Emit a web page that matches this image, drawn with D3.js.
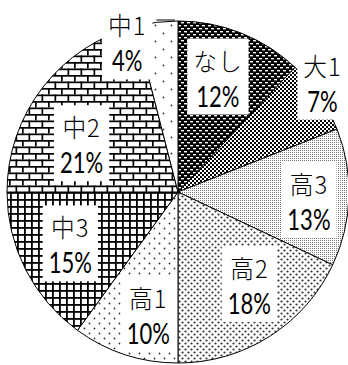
<!DOCTYPE html>
<html>
<head>
<meta charset="utf-8">
<script src="https://cdn.jsdelivr.net/npm/d3@7"></script>
<style>
  body { margin: 0; background: #fff; }
  text { fill: #000; }
  .name { font-family: "Noto Sans CJK JP", "Noto Sans", sans-serif; font-weight: 300; }
  .pct { font-family: Lato, "Liberation Sans", sans-serif; font-weight: 400; }
</style>
</head>
<body>
<div id="chart"></div>
<script>
// share of respondents by group (percent), clockwise from the top
var categories = ["なし", "大1", "高3", "高2", "高1", "中3", "中2", "中1"];
var shares = [12, 7, 13, 18, 10, 15, 21, 4];

var width = 348;
var height = 365;
var cx = 178, cy = 192;
var radius = 171;

// label placement: inside radius, outside radius, and small hand nudges
var innerLabelR = 122;
var outerLabelR = 182;
var nudges = [[-5, -2], [-6, -8], [9, 4], [6, -11], [8, 6], [1, -4], [0, 26], [-28, 30]];

var svg = d3.select('#chart')
  .append('svg')
  .attr('width', width)
  .attr('height', height);

var defs = svg.append('defs');

function pattern(id, w, h, bg, draw) {
  var p = defs.append('pattern')
    .attr('id', id)
    .attr('patternUnits', 'userSpaceOnUse')
    .attr('width', w)
    .attr('height', h);
  p.append('rect').attr('width', w).attr('height', h).attr('fill', bg);
  draw(p);
}

// なし: black with white dashes
pattern('p0', 6, 6, '#000', function(p) {
  p.append('rect').attr('x', 0).attr('y', 1).attr('width', 3).attr('height', 1.4).attr('fill', '#fff');
  p.append('rect').attr('x', 3).attr('y', 4).attr('width', 3).attr('height', 1.4).attr('fill', '#fff');
});
// 大1: checkerboard
pattern('p1', 4, 4, '#000', function(p) {
  p.append('rect').attr('x', 0).attr('y', 0).attr('width', 2).attr('height', 2).attr('fill', '#fff');
  p.append('rect').attr('x', 2).attr('y', 2).attr('width', 2).attr('height', 2).attr('fill', '#fff');
});
// 高3: fine dots
pattern('p2', 2, 2, '#fff', function(p) {
  p.append('rect').attr('width', 1).attr('height', 1).attr('fill', '#777');
});
// 高2: medium dots
pattern('p3', 6, 6, '#fff', function(p) {
  p.append('circle').attr('cx', 1.5).attr('cy', 1.5).attr('r', 1.1).attr('fill', '#333');
  p.append('circle').attr('cx', 4.5).attr('cy', 4.5).attr('r', 1.1).attr('fill', '#333');
});
// 高1: sparse dots
pattern('p4', 10, 10, '#fff', function(p) {
  p.append('circle').attr('cx', 1.5).attr('cy', 1.5).attr('r', 0.9).attr('fill', '#333');
  p.append('circle').attr('cx', 6.5).attr('cy', 6.5).attr('r', 0.9).attr('fill', '#333');
});
// 中3: grid
pattern('p5', 7, 7, '#fff', function(p) {
  p.append('rect').attr('x', 0).attr('y', 0).attr('width', 7).attr('height', 1.8).attr('fill', '#000');
  p.append('rect').attr('x', 0).attr('y', 0).attr('width', 1.8).attr('height', 7).attr('fill', '#000');
});
// 中2: bricks
pattern('p6', 13, 13, '#fff', function(p) {
  p.append('rect').attr('x', 0).attr('y', 0).attr('width', 13).attr('height', 1.7).attr('fill', '#000');
  p.append('rect').attr('x', 0).attr('y', 6.5).attr('width', 13).attr('height', 1.7).attr('fill', '#000');
  p.append('rect').attr('x', 0).attr('y', 0).attr('width', 1.7).attr('height', 6.5).attr('fill', '#000');
  p.append('rect').attr('x', 6.5).attr('y', 6.5).attr('width', 1.7).attr('height', 6.5).attr('fill', '#000');
});
// 中1: very sparse dots
pattern('p7', 16, 16, '#fff', function(p) {
  p.append('circle').attr('cx', 1.5).attr('cy', 1.5).attr('r', 0.9).attr('fill', '#333');
  p.append('circle').attr('cx', 9.5).attr('cy', 9.5).attr('r', 0.9).attr('fill', '#333');
});

var g = svg.append('g')
  .attr('transform', 'translate(' + cx + ',' + cy + ')');

var pie = d3.pie()
  .value(function(d) { return d; })
  .sort(null);

var arcs = pie(shares);

var arc = d3.arc()
  .innerRadius(0)
  .outerRadius(radius);

g.selectAll('path')
  .data(arcs)
  .enter()
  .append('path')
  .attr('d', arc)
  .attr('fill', function(d, i) { return 'url(#p' + i + ')'; })
  .attr('stroke', '#000')
  .attr('stroke-width', 1);

// labels
var s1 = 0.95, s2 = 0.76;
arcs.forEach(function(d, i) {
  var mid = (d.startAngle + d.endAngle) / 2;
  var outside = d.data < 8;
  var r = outside ? outerLabelR : innerLabelR;
  var x = Math.sin(mid) * r + nudges[i][0];
  var y = -Math.cos(mid) * r + nudges[i][1];

  var lg = g.append('g').attr('transform', 'translate(' + x + ',' + y + ')');
  var box = lg.append('rect').attr('fill', '#fff');

  var t1 = lg.append('text')
    .attr('class', 'name')
    .attr('text-anchor', 'middle')
    .attr('font-size', 25)
    .attr('letter-spacing', 1)
    .attr('transform', 'translate(0,-6) scale(' + s1 + ',1)')
    .text(categories[i]);
  var t2 = lg.append('text')
    .attr('class', 'pct')
    .attr('text-anchor', 'middle')
    .attr('font-size', 29)
    .attr('transform', 'translate(0,30) scale(' + s2 + ',1)')
    .text(d.data + '%');

  var w = Math.max(t1.node().getBBox().width * s1, t2.node().getBBox().width * s2) + 12;
  box.attr('x', -w / 2).attr('y', -38).attr('width', w).attr('height', 76);

  if (outside && Math.cos(mid) > 0.9) {
    // leader line from the label to the slice edge
    g.append('line')
      .attr('x1', x + w / 2 + 4).attr('y1', -radius - 1)
      .attr('x2', -3).attr('y2', -radius - 1)
      .attr('stroke', '#000')
      .attr('stroke-width', 1);
  }
});
</script>
</body>
</html>
